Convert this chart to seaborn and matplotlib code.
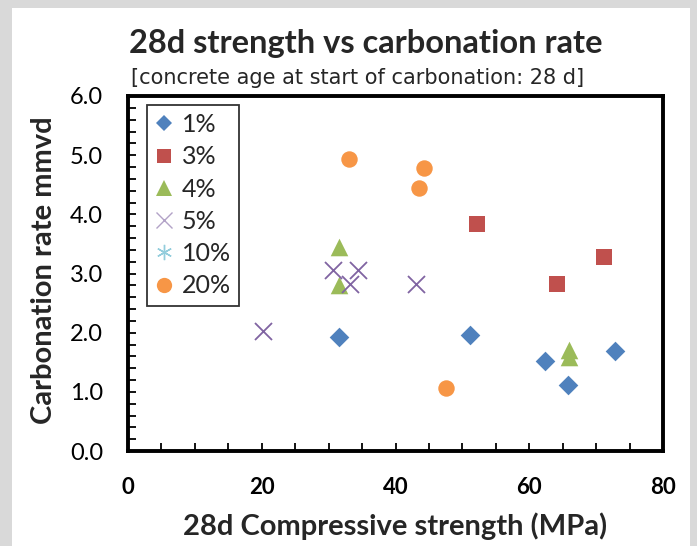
import matplotlib
matplotlib.use("Agg")
import matplotlib.pyplot as plt
from matplotlib.lines import Line2D
from matplotlib.patches import Rectangle
from matplotlib.ticker import MultipleLocator
import seaborn as sns
import pandas as pd

sns.set_style("white")
plt.rcParams['font.family'] = ['Lato', 'DejaVu Sans']

series = ["1%", "3%", "4%", "5%", "10%", "20%"]
x_1 = [31.5, 51.1, 62.3, 65.8, 72.8]
y_1 = [1.93, 1.96, 1.52, 1.11, 1.69]
x_3 = [52.2, 64.1, 71.2]
y_3 = [3.83, 2.82, 3.28]
x_4 = [31.5, 31.5, 65.9, 65.9]
y_4 = [3.45, 2.80, 1.71, 1.59]
x_5 = [20.2, 30.6, 34.4, 33.2, 43.0]
y_5 = [2.03, 3.06, 3.06, 2.82, 2.82]
x_10 = []
y_10 = []
x_20 = [33.0, 44.2, 43.5, 47.5]
y_20 = [4.93, 4.78, 4.44, 1.06]

xs = [x_1, x_3, x_4, x_5, x_10, x_20]
ys = [y_1, y_3, y_4, y_5, y_10, y_20]

colors = ["#4F81BD", "#C0504D", "#9BBB59", "#8064A2", "#4BACC6", "#F79646"]
markers = ["D", "s", "^", "x", (6, 2, 0), "o"]
sizes = [100, 140, 160, 150, 130, 140]
leg_ms = [8.5, 10.5, 11, 11, 11, 11]

fig = plt.figure(figsize=(6.97, 5.46), dpi=100, facecolor="#d9d9d9")
fig.patches.append(Rectangle((12/697, 0), 678/697, 1 - 8/546, transform=fig.transFigure,
                             facecolor="white", edgecolor="none", zorder=-10))
ax = fig.add_axes([128/697, 1 - 451/546, 535/697, 355/546])
ax.set_facecolor("white")

handles = []
for name, xv, yv, c, m, s, lm in zip(series, xs, ys, colors, markers, sizes, leg_ms):
    line_marker = m == "x" or isinstance(m, tuple)
    if len(xv) > 0:
        df = pd.DataFrame({"x": xv, "y": yv})
        if line_marker:
            sns.scatterplot(data=df, x="x", y="y", ax=ax, marker=m, color=c, s=s,
                            linewidth=1.3, legend=False, zorder=3)
        else:
            sns.scatterplot(data=df, x="x", y="y", ax=ax, marker=m, color=c, s=s,
                            linewidth=0, legend=False, zorder=3)
    if line_marker:
        h = Line2D([], [], linestyle="none", marker=m, color=c, markersize=lm,
                   markeredgewidth=1.0, alpha=0.6)
    else:
        h = Line2D([], [], linestyle="none", marker=m, color=c, markerfacecolor=c,
                   markeredgewidth=0, markersize=lm)
    handles.append(h)

ax.set_xlim(0, 80)
ax.set_ylim(0, 6)
ax.xaxis.set_major_locator(MultipleLocator(20))
ax.xaxis.set_minor_locator(MultipleLocator(5))
ax.yaxis.set_major_locator(MultipleLocator(1))
ax.yaxis.set_minor_locator(MultipleLocator(0.2))
ax.set_yticks([0, 1, 2, 3, 4, 5, 6])
ax.set_yticklabels([f"{v:.1f}" for v in [0, 1, 2, 3, 4, 5, 6]])
ax.tick_params(axis="both", which="both", direction="in", length=6, width=1.3,
               colors="black", top=False, right=False, left=True, bottom=True)
ax.tick_params(axis="x", which="major", pad=19, labelsize=16)
ax.tick_params(axis="y", which="major", pad=18, labelsize=17)
for lab in ax.get_xticklabels():
    lab.set_fontweight("bold")
for sp in ax.spines.values():
    sp.set_visible(True)
    sp.set_color("black")
    sp.set_linewidth(2.8)

ax.set_xlabel("28d Compressive strength (MPa)", fontsize=21, fontweight="bold", va="center")
ax.xaxis.set_label_coords(0.5, -0.212)
ax.set_ylabel("Carbonation rate mmvd", fontsize=21, fontweight="bold", va="center")
ax.yaxis.set_label_coords(-0.157, 0.51)

leg = ax.legend(handles, series, loc="upper left", bbox_to_anchor=(0.0355, 0.975),
                borderaxespad=0, frameon=True, fancybox=False, fontsize=18,
                handlelength=0.7, handletextpad=0.35, labelspacing=0.37, borderpad=0.33)
leg.get_frame().set_edgecolor("black")
leg.get_frame().set_linewidth(1.3)

fig.text(366/697, 1 - 53/546, "28d strength vs carbonation rate", ha="center", va="baseline",
         fontsize=23.5, fontweight="bold")
fig.text(131/697, 1 - 84/546, "[concrete age at start of carbonation: 28 d]", ha="left",
         va="baseline", fontsize=15, family="DejaVu Sans")

fig.savefig("out.png", dpi=100, facecolor=fig.get_facecolor())
